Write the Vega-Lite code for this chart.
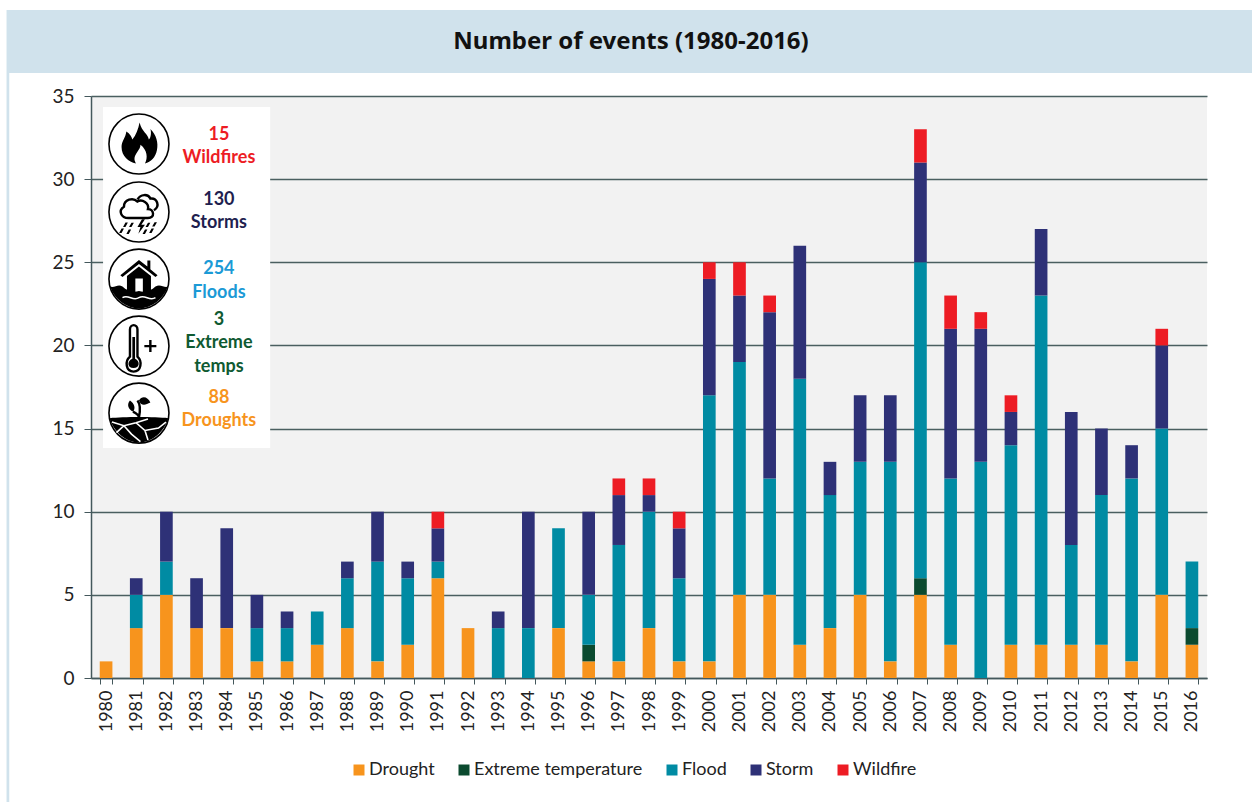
{
"$schema":"https://vega.github.io/schema/vega-lite/v6.json",
"width":1116,"height":582,
"autosize":{"type":"none"},
"padding":{"left":91,"top":96,"right":45,"bottom":124},
"background":"#ffffff",
"title":{"text":"Number of events (1980-2016)","anchor":"middle","dx":-18,"offset":-56,"baseline":"middle","font":"Noto Sans","fontWeight":"bold","fontSize":24,"color":"#111111"},
"datasets":{
"icons":[
{"px":1981.09,"py":32.11,"glyph":"flame","kind":"fill"},
{"px":1981.09,"py":28.02,"glyph":"cloud","kind":"line"},
{"px":1981.09,"py":28.02,"glyph":"rain","kind":"fill"},
{"px":1981.09,"py":23.99,"glyph":"house","kind":"fill"},
{"px":1981.09,"py":23.99,"glyph":"waves","kind":"fill"},
{"px":1981.09,"py":23.99,"glyph":"wavecrest","kind":"white"},
{"px":1981.09,"py":19.96,"glyph":"thermo","kind":"line"},
{"px":1981.09,"py":19.96,"glyph":"mercury","kind":"fill"},
{"px":1981.09,"py":15.93,"glyph":"ground","kind":"fill"},
{"px":1981.09,"py":15.93,"glyph":"stem","kind":"line"},
{"px":1981.09,"py":15.93,"glyph":"leaves","kind":"fill"},
{"px":1981.09,"py":15.93,"glyph":"cracks","kind":"white"}
]
},
"data":{"values":[
{"year":"1980","type":"Drought","count":1},
{"year":"1981","type":"Drought","count":3},{"year":"1981","type":"Flood","count":2},{"year":"1981","type":"Storm","count":1},
{"year":"1982","type":"Drought","count":5},{"year":"1982","type":"Flood","count":2},{"year":"1982","type":"Storm","count":3},
{"year":"1983","type":"Drought","count":3},{"year":"1983","type":"Storm","count":3},
{"year":"1984","type":"Drought","count":3},{"year":"1984","type":"Storm","count":6},
{"year":"1985","type":"Drought","count":1},{"year":"1985","type":"Flood","count":2},{"year":"1985","type":"Storm","count":2},
{"year":"1986","type":"Drought","count":1},{"year":"1986","type":"Flood","count":2},{"year":"1986","type":"Storm","count":1},
{"year":"1987","type":"Drought","count":2},{"year":"1987","type":"Flood","count":2},
{"year":"1988","type":"Drought","count":3},{"year":"1988","type":"Flood","count":3},{"year":"1988","type":"Storm","count":1},
{"year":"1989","type":"Drought","count":1},{"year":"1989","type":"Flood","count":6},{"year":"1989","type":"Storm","count":3},
{"year":"1990","type":"Drought","count":2},{"year":"1990","type":"Flood","count":4},{"year":"1990","type":"Storm","count":1},
{"year":"1991","type":"Drought","count":6},{"year":"1991","type":"Flood","count":1},{"year":"1991","type":"Storm","count":2},{"year":"1991","type":"Wildfire","count":1},
{"year":"1992","type":"Drought","count":3},
{"year":"1993","type":"Flood","count":3},{"year":"1993","type":"Storm","count":1},
{"year":"1994","type":"Flood","count":3},{"year":"1994","type":"Storm","count":7},
{"year":"1995","type":"Drought","count":3},{"year":"1995","type":"Flood","count":6},
{"year":"1996","type":"Drought","count":1},{"year":"1996","type":"Extreme temperature","count":1},{"year":"1996","type":"Flood","count":3},{"year":"1996","type":"Storm","count":5},
{"year":"1997","type":"Drought","count":1},{"year":"1997","type":"Flood","count":7},{"year":"1997","type":"Storm","count":3},{"year":"1997","type":"Wildfire","count":1},
{"year":"1998","type":"Drought","count":3},{"year":"1998","type":"Flood","count":7},{"year":"1998","type":"Storm","count":1},{"year":"1998","type":"Wildfire","count":1},
{"year":"1999","type":"Drought","count":1},{"year":"1999","type":"Flood","count":5},{"year":"1999","type":"Storm","count":3},{"year":"1999","type":"Wildfire","count":1},
{"year":"2000","type":"Drought","count":1},{"year":"2000","type":"Flood","count":16},{"year":"2000","type":"Storm","count":7},{"year":"2000","type":"Wildfire","count":1},
{"year":"2001","type":"Drought","count":5},{"year":"2001","type":"Flood","count":14},{"year":"2001","type":"Storm","count":4},{"year":"2001","type":"Wildfire","count":2},
{"year":"2002","type":"Drought","count":5},{"year":"2002","type":"Flood","count":7},{"year":"2002","type":"Storm","count":10},{"year":"2002","type":"Wildfire","count":1},
{"year":"2003","type":"Drought","count":2},{"year":"2003","type":"Flood","count":16},{"year":"2003","type":"Storm","count":8},
{"year":"2004","type":"Drought","count":3},{"year":"2004","type":"Flood","count":8},{"year":"2004","type":"Storm","count":2},
{"year":"2005","type":"Drought","count":5},{"year":"2005","type":"Flood","count":8},{"year":"2005","type":"Storm","count":4},
{"year":"2006","type":"Drought","count":1},{"year":"2006","type":"Flood","count":12},{"year":"2006","type":"Storm","count":4},
{"year":"2007","type":"Drought","count":5},{"year":"2007","type":"Extreme temperature","count":1},{"year":"2007","type":"Flood","count":19},{"year":"2007","type":"Storm","count":6},{"year":"2007","type":"Wildfire","count":2},
{"year":"2008","type":"Drought","count":2},{"year":"2008","type":"Flood","count":10},{"year":"2008","type":"Storm","count":9},{"year":"2008","type":"Wildfire","count":2},
{"year":"2009","type":"Flood","count":13},{"year":"2009","type":"Storm","count":8},{"year":"2009","type":"Wildfire","count":1},
{"year":"2010","type":"Drought","count":2},{"year":"2010","type":"Flood","count":12},{"year":"2010","type":"Storm","count":2},{"year":"2010","type":"Wildfire","count":1},
{"year":"2011","type":"Drought","count":2},{"year":"2011","type":"Flood","count":21},{"year":"2011","type":"Storm","count":4},
{"year":"2012","type":"Drought","count":2},{"year":"2012","type":"Flood","count":6},{"year":"2012","type":"Storm","count":8},
{"year":"2013","type":"Drought","count":2},{"year":"2013","type":"Flood","count":9},{"year":"2013","type":"Storm","count":4},
{"year":"2014","type":"Drought","count":1},{"year":"2014","type":"Flood","count":11},{"year":"2014","type":"Storm","count":2},
{"year":"2015","type":"Drought","count":5},{"year":"2015","type":"Flood","count":10},{"year":"2015","type":"Storm","count":5},{"year":"2015","type":"Wildfire","count":1},
{"year":"2016","type":"Drought","count":2},{"year":"2016","type":"Extreme temperature","count":1},{"year":"2016","type":"Flood","count":4}
]},
"layer":[
{"data":{"values":[{"x0":1976.7,"x1":2018.2,"y0":36.38,"y1":40.17},{"x0":1976.7,"x1":1976.79,"y0":-7.46,"y1":36.38}]},
 "mark":{"type":"rect","fill":"#d0e2ec","clip":false},
 "encoding":{"x":{"field":"x0","type":"quantitative","scale":{"domain":[1979.5,2016.5]},"axis":null},"x2":{"field":"x1"},"y":{"field":"y0","type":"quantitative"},"y2":{"field":"y1"}}},
{"mark":{"type":"bar"},
 "encoding":{
  "x":{"field":"year","type":"ordinal","scale":{"paddingInner":0.58,"paddingOuter":0.29},
   "axis":{"title":null,"labelAngle":-90,"labelFont":"Lato","labelFontSize":18,"labelColor":"#222222","labelPadding":6,"tickBand":"extent","tickSize":6,"tickColor":"#44585c","domainColor":"#44585c","domainWidth":1.5,"grid":false,"labelBaseline":"middle"}},
  "y":{"field":"count","type":"quantitative","stack":"zero","scale":{"domain":[0,35],"nice":false},
   "axis":{"title":null,"values":[0,5,10,15,20,25,30,35],"labelFont":"Lato","labelFontSize":19,"labelColor":"#222222","labelPadding":10,"tickSize":7,"tickColor":"#44585c","domainColor":"#44585c","domainWidth":1.5,"grid":true,"gridColor":"#4a5f60","gridWidth":1.4}},
  "color":{"field":"type","type":"nominal","scale":{"domain":["Drought","Extreme temperature","Flood","Storm","Wildfire"],"range":["#f7941d","#0b4a2f","#008ba3","#2e3177","#ed1c24"]},
   "legend":{"title":null,"orient":"none","legendX":259,"legendY":665,"direction":"horizontal","symbolType":"square","symbolSize":121,"symbolStrokeWidth":0,"labelFont":"Lato","labelFontSize":18,"labelColor":"#222222","labelOffset":1,"labelLimit":0,"columnPadding":20,"gridAlign":"each"}},
  "order":{"field":"type","sort":"ascending"}}},
{"data":{"values":[{"x0":1979.9,"x1":1985.44,"y0":13.83,"y1":34.34}]},
 "mark":{"type":"rect","fill":"#ffffff"},
 "encoding":{"x":{"field":"x0","type":"quantitative","scale":{"domain":[1979.5,2016.5]},"axis":null},"x2":{"field":"x1"},"y":{"field":"y0","type":"quantitative"},"y2":{"field":"y1"}}},
{"data":{"values":[{"px":1981.09,"py":32.11},{"px":1981.09,"py":28.02},{"px":1981.09,"py":23.99},{"px":1981.09,"py":19.96},{"px":1981.09,"py":15.93}]},
 "mark":{"type":"point","shape":"circle","size":3600,"filled":false,"fill":"#ffffff","fillOpacity":1,"stroke":"#000000","strokeWidth":1.6,"opacity":1},
 "encoding":{"x":{"field":"px","type":"quantitative","scale":{"domain":[1979.5,2016.5]},"axis":null},"y":{"field":"py","type":"quantitative"}}},
{"data":{"name":"icons"},"transform":[{"filter":"datum.kind==='fill'"}],
 "mark":{"type":"point","filled":true,"fill":"#000000","fillOpacity":1,"opacity":1,"strokeWidth":0},
 "encoding":{"x":{"field":"px","type":"quantitative","scale":{"domain":[1979.5,2016.5]},"axis":null},"y":{"field":"py","type":"quantitative"},"size":{"value":3600},
  "shape":{"field":"glyph","type":"nominal","legend":null,"scale":{"domain":["flame","rain","house","waves","mercury","ground","leaves","cloud","thermo","stem","wavecrest","cracks"],"range":[
"M.02,-.72 C.1,-.4 .3,-.35 .33,-.15 C.4,-.2 .42,-.4 .38,-.5 C.58,-.3 .65,-.05 .6,.2 C.55,.45 .4,.6 .2,.65 C.3,.45 .28,.2 .05,.02 C.05,.2 -.15,.3 -.15,.5 C-.15,.55 -.12,.6 -.1,.65 C-.35,.6 -.58,.4 -.58,.1 C-.58,-.1 -.45,-.2 -.42,-.42 C-.3,-.35 -.25,-.25 -.22,-.15 C-.1,-.3 -.02,-.5 .02,-.72 Z",
"M.1,.24 L-.05,.5 L.05,.5 L-.02,.72 L.2,.42 L.08,.42 L.2,.24 Z M-.45,.35 L-.37,.35 L-.45,.5 L-.53,.5 Z M-.25,.36 L-.17,.36 L-.25,.5 L-.33,.5 Z M.3,.36 L.38,.36 L.3,.5 L.22,.5 Z M.52,.34 L.6,.34 L.52,.48 L.44,.48 Z M-.58,.55 L-.5,.55 L-.58,.7 L-.66,.7 Z M-.34,.58 L-.26,.58 L-.34,.73 L-.42,.73 Z M.2,.58 L.28,.58 L.2,.73 L.12,.73 Z M.42,.55 L.5,.55 L.42,.7 L.34,.7 Z",
"M0,-.64 L.28,-.42 L.28,-.62 L.38,-.62 L.38,-.33 L.62,-.13 L.55,-.07 L0,-.5 L-.55,-.07 L-.62,-.13 Z M-.4,-.1 L0,-.42 L.4,-.1 L.4,.5 L-.4,.5 Z M-.12,-.02 L-.12,.5 L.13,.5 L.13,-.02 Z",
"M-.96,.25 C-.8,.3 -.7,.15 -.55,.25 C-.4,.4 -.2,.45 0,.4 C.2,.45 .4,.4 .55,.25 C.7,.15 .85,.3 .96,.25 C.82,.68 .42,.97 0,.98 C-.42,.97 -.82,.68 -.96,.25 Z",
"M-.22,-.3 L-.13,-.3 L-.13,.42 C.05,.5 .03,.73 -.18,.73 C-.39,.73 -.41,.5 -.22,.42 Z",
"M-.98,.17 C-.5,.12 .5,.12 .98,.17 C.85,.6 .45,.97 0,.98 C-.45,.97 -.85,.6 -.98,.17 Z",
"M0,-.42 C.1,-.6 .3,-.55 .38,-.35 C.2,-.25 .05,-.25 0,-.42 Z M-.2,-.05 C-.35,-.12 -.42,-.28 -.3,-.42 C-.15,-.32 -.1,-.15 -.2,-.05 Z",
"M-.35,.2 C-.6,.2 -.7,-.05 -.5,-.18 C-.5,-.42 -.2,-.5 -.05,-.35 C.1,-.45 .35,-.3 .3,-.1 C.5,-.1 .55,.2 .3,.2 Z M-.05,-.42 C.05,-.6 .3,-.62 .38,-.45 C.6,-.48 .72,-.2 .5,-.06",
"M-.3,.35 L-.3,-.55 C-.3,-.75 -.05,-.75 -.05,-.55 L-.05,.35 C.12,.5 .08,.85 -.18,.85 C-.44,.85 -.48,.5 -.3,.35 Z M.18,0 L.58,0 M.38,-.2 L.38,.2",
"M0,.15 C.05,-.1 .05,-.3 -.05,-.42 M-.2,-.05 C-.1,0 0,.05 0,.15",
"M-.55,.62 C-.35,.5 -.2,.75 0,.62 C.2,.5 .35,.75 .55,.62",
"M-.9,.3 L-.5,.42 L-.1,.32 L.3,.2 M-.5,.42 L-.25,.7 L.05,.95 M-.1,.32 L.2,.58 L.65,.5 L.9,.3 M.2,.58 L.3,.9 M-.5,.42 L-.75,.65"
]}}}},
{"data":{"name":"icons"},"transform":[{"filter":"datum.kind==='line'"}],
 "mark":{"type":"point","filled":false,"fill":"transparent","stroke":"#000000","strokeWidth":2.4,"opacity":1},
 "encoding":{"x":{"field":"px","type":"quantitative","scale":{"domain":[1979.5,2016.5]},"axis":null},"y":{"field":"py","type":"quantitative"},"size":{"value":3600},
  "shape":{"field":"glyph","type":"nominal","legend":null}}},
{"data":{"name":"icons"},"transform":[{"filter":"datum.kind==='white'"}],
 "mark":{"type":"point","filled":false,"fill":"transparent","stroke":"#ffffff","strokeWidth":1.6,"opacity":1},
 "encoding":{"x":{"field":"px","type":"quantitative","scale":{"domain":[1979.5,2016.5]},"axis":null},"y":{"field":"py","type":"quantitative"},"size":{"value":3600},
  "shape":{"field":"glyph","type":"nominal","legend":null}}},
{"data":{"values":[
{"px":1983.74,"py":32.65,"label":"15","kind":"Wildfire"},
{"px":1983.74,"py":31.27,"label":"Wildfires","kind":"Wildfire"},
{"px":1983.74,"py":28.74,"label":"130","kind":"Storm"},
{"px":1983.74,"py":27.36,"label":"Storms","kind":"Storm"},
{"px":1983.74,"py":24.59,"label":"254","kind":"Flood"},
{"px":1983.74,"py":23.15,"label":"Floods","kind":"Flood"},
{"px":1983.74,"py":21.53,"label":"3","kind":"Extreme"},
{"px":1983.74,"py":20.14,"label":"Extreme","kind":"Extreme"},
{"px":1983.74,"py":18.7,"label":"temps","kind":"Extreme"},
{"px":1983.74,"py":16.84,"label":"88","kind":"Drought"},
{"px":1983.74,"py":15.45,"label":"Droughts","kind":"Drought"}
]},
 "mark":{"type":"text","font":"Lato","fontWeight":"bold","fontSize":18,"align":"center","baseline":"middle"},
 "encoding":{"x":{"field":"px","type":"quantitative","scale":{"domain":[1979.5,2016.5]},"axis":null},"y":{"field":"py","type":"quantitative"},"text":{"field":"label","type":"nominal"},
  "fill":{"field":"kind","type":"nominal","legend":null,"scale":{"domain":["Wildfire","Storm","Flood","Extreme","Drought"],"range":["#ed1c24","#1f1f4f","#1b9ad6","#0f5a32","#f7941d"]}}}}
],
"resolve":{"scale":{"x":"independent"}},
"config":{"view":{"stroke":null,"fill":"#f2f2f2"}}
}
